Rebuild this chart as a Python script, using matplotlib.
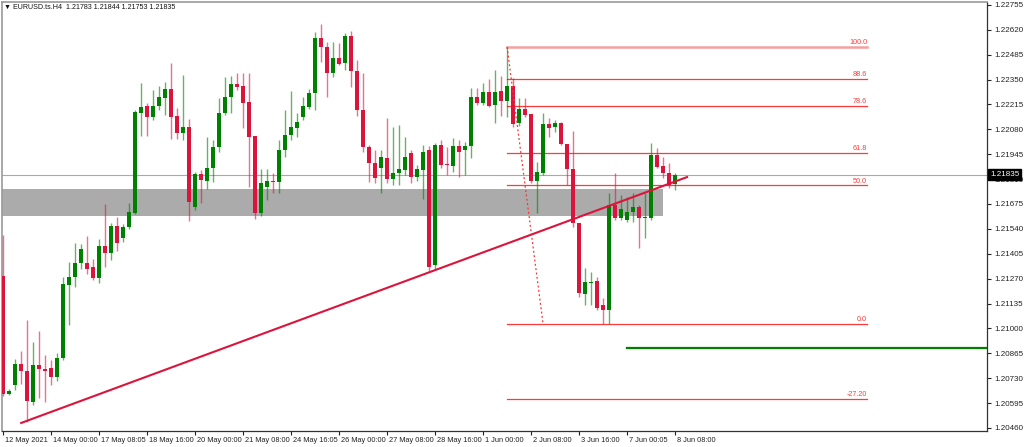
import numpy as np
import matplotlib.pyplot as plt
from matplotlib.transforms import blended_transform_factory, ScaledTranslation

plt.rcParams['font.family'] = ['Liberation Sans', 'DejaVu Sans']

# EURUSD H4 candles
opens = [1.21284, 1.20644, 1.20693, 1.20807, 1.20769, 1.20601, 1.20802, 1.20780, 1.20785, 1.20736,
         1.20840, 1.21236, 1.21279, 1.21355, 1.21355, 1.21333, 1.21274, 1.21447, 1.21409, 1.21556,
         1.21491, 1.21550, 1.21626, 1.22169, 1.22207, 1.22147, 1.22207, 1.22250, 1.22299, 1.22153,
         1.22060, 1.22093, 1.21659, 1.21838, 1.21800, 1.21870, 1.21985, 1.22169, 1.22256, 1.22326,
         1.22315, 1.22228, 1.22044, 1.21626, 1.21767, 1.21800, 1.21794, 1.21968, 1.22050, 1.22087,
         1.22147, 1.22201, 1.22277, 1.22576, 1.22527, 1.22386, 1.22467, 1.22440, 1.22587, 1.22397,
         1.22185, 1.21985, 1.21898, 1.21870, 1.21925, 1.21811, 1.21843, 1.21860, 1.21952, 1.21821,
         1.21860, 1.21968, 1.21344, 1.21995, 1.21892, 1.21881, 1.21990, 1.21968, 1.21990, 1.22256,
         1.22223, 1.22283, 1.22212, 1.22288, 1.22234, 1.22315, 1.22115, 1.22190, 1.22163, 1.21800,
         1.21843, 1.22109, 1.22093, 1.22115, 1.22001, 1.21865, 1.21572, 1.21187, 1.21247, 1.21257,
         1.21127, 1.21100, 1.21670, 1.21599, 1.21588, 1.21632, 1.21659, 1.21599, 1.21599, 1.21941,
         1.21881, 1.21843, 1.21783]
highs = [1.21507, 1.20671, 1.20834, 1.20878, 1.21046, 1.20926, 1.20986, 1.20856, 1.20829, 1.20867,
         1.21279, 1.21360, 1.21463, 1.21458, 1.21502, 1.21377, 1.21485, 1.21675, 1.21572, 1.21605,
         1.21567, 1.21681, 1.22185, 1.22332, 1.22223, 1.22294, 1.22315, 1.22337, 1.22440, 1.22196,
         1.22375, 1.22136, 1.21849, 1.21860, 1.22039, 1.22022, 1.22250, 1.22364, 1.22370, 1.22386,
         1.22386, 1.22386, 1.22044, 1.21865, 1.21865, 1.21843, 1.22022, 1.22185, 1.22288, 1.22169,
         1.22256, 1.22299, 1.22608, 1.22652, 1.22554, 1.22554, 1.22549, 1.22603, 1.22614, 1.22456,
         1.22386, 1.21995, 1.21968, 1.21968, 1.22142, 1.22093, 1.22104, 1.22039, 1.21968, 1.21887,
         1.21995, 1.21990, 1.22006, 1.22022, 1.21985, 1.22033, 1.22022, 1.22012, 1.22304, 1.22304,
         1.22332, 1.22353, 1.22402, 1.22370, 1.22527, 1.22359, 1.22250, 1.22250, 1.22163, 1.21903,
         1.22169, 1.22142, 1.22131, 1.22120, 1.22001, 1.22071, 1.21572, 1.21328, 1.21306, 1.21279,
         1.21165, 1.21735, 1.21843, 1.21724, 1.21713, 1.21735, 1.21670, 1.21735, 1.22006, 1.21979,
         1.21930, 1.21898, 1.21844]
lows = [1.20633, 1.20639, 1.20666, 1.20698, 1.20492, 1.20585, 1.20623, 1.20601, 1.20693, 1.20715,
        1.20829, 1.21018, 1.21225, 1.21322, 1.21295, 1.21263, 1.21246, 1.21333, 1.21371, 1.21420,
        1.21469, 1.21539, 1.21621, 1.22044, 1.22044, 1.22131, 1.22185, 1.22158, 1.22028, 1.22028,
        1.22022, 1.21583, 1.21643, 1.21681, 1.21756, 1.21794, 1.21957, 1.22158, 1.22169, 1.22294,
        1.22087, 1.21767, 1.21594, 1.21610, 1.21697, 1.21735, 1.21735, 1.21930, 1.22022, 1.22039,
        1.22131, 1.22190, 1.22185, 1.22446, 1.22256, 1.22364, 1.22429, 1.22402, 1.22310, 1.22153,
        1.21957, 1.21794, 1.21789, 1.21735, 1.21789, 1.21778, 1.21778, 1.21832, 1.21789, 1.21800,
        1.21702, 1.21306, 1.21322, 1.21870, 1.21832, 1.21849, 1.21821, 1.21832, 1.21925, 1.22212,
        1.22212, 1.22201, 1.22115, 1.22153, 1.22147, 1.22093, 1.22098, 1.22147, 1.21789, 1.21626,
        1.21832, 1.22039, 1.22066, 1.21995, 1.21778, 1.21550, 1.21170, 1.21127, 1.21127, 1.21100,
        1.21024, 1.21024, 1.21588, 1.21588, 1.21577, 1.21577, 1.21437, 1.21491, 1.21588, 1.21870,
        1.21816, 1.21762, 1.21753]
closes = [1.20644, 1.20661, 1.20807, 1.20769, 1.20606, 1.20802, 1.20780, 1.20769, 1.20736, 1.20840,
          1.21241, 1.21279, 1.21355, 1.21431, 1.21322, 1.21274, 1.21447, 1.21409, 1.21556, 1.21463,
          1.21550, 1.21632, 1.22174, 1.22201, 1.22147, 1.22207, 1.22256, 1.22299, 1.22147, 1.22060,
          1.22093, 1.21686, 1.21838, 1.21805, 1.21870, 1.21985, 1.22169, 1.22256, 1.22326, 1.22310,
          1.22223, 1.22039, 1.21626, 1.21789, 1.21800, 1.21794, 1.21968, 1.22050, 1.22093, 1.22120,
          1.22207, 1.22277, 1.22576, 1.22527, 1.22386, 1.22467, 1.22435, 1.22587, 1.22397, 1.22185,
          1.21985, 1.21898, 1.21816, 1.21930, 1.21811, 1.21843, 1.21865, 1.21930, 1.21821, 1.21865,
          1.21957, 1.21333, 1.21995, 1.21887, 1.21887, 1.21990, 1.21957, 1.21990, 1.22256, 1.22223,
          1.22283, 1.22207, 1.22283, 1.22234, 1.22315, 1.22109, 1.22190, 1.22158, 1.21800, 1.21849,
          1.22109, 1.22087, 1.22115, 1.22001, 1.21865, 1.21572, 1.21192, 1.21252, 1.21252, 1.21111,
          1.21100, 1.21670, 1.21599, 1.21648, 1.21632, 1.21659, 1.21599, 1.21605, 1.21941, 1.21876,
          1.21843, 1.21778, 1.21835]

date_labels = ['12 May 2021', '14 May 00:00', '17 May 08:05', '18 May 16:00', '20 May 00:00',
               '21 May 08:00', '24 May 16:05', '26 May 00:00', '27 May 08:00', '28 May 16:00',
               '1 Jun 00:00', '2 Jun 08:00', '3 Jun 16:00', '7 Jun 00:05', '8 Jun 08:00']
price_ticks = [1.22755, 1.22620, 1.22485, 1.22350, 1.22215, 1.22080, 1.21945, 1.21810,
               1.21675, 1.21540, 1.21405, 1.21270, 1.21135, 1.21000, 1.20865, 1.20730,
               1.20595, 1.20460]

# drawn objects
fib_high, fib_low = 1.22527, 1.21024
fib_levels = [100.0, 88.6, 78.6, 61.8, 50.0, 0.0, -27.2]
fib_texts = ['100.0', '88.6', '78.6', '61.8', '50.0', '0.0', '-27.20']
fib_start, fib_anchor, fib_end = 84, 90, 144
trend_idx = [3, 114]
trend_price = [1.20487, 1.21821]
zone_low, zone_high, zone_end = 1.21610, 1.21757, 110
green_level, green_start = 1.20894, 104
last_price = 1.21835

GREEN = '#008000'
RED = '#dc143c'

fig = plt.figure(figsize=(10.24, 4.47), dpi=100)
ax = fig.add_axes([2 / 1024, 16.5 / 447, 985 / 1024, 428.5 / 447])

x = np.arange(len(opens))
o = np.array(opens)
c = np.array(closes)
up = c >= o
cols = np.where(up, GREEN, RED)

# support zone
ax.fill_between([-2, zone_end], zone_low, zone_high, color='#ababab', lw=0, zorder=1)

# candles
ax.vlines(x, lows, highs, colors=cols, lw=1, alpha=0.6, zorder=3)
body_h = np.maximum(np.abs(c - o), 0.000025)
ax.bar(x, body_h, bottom=np.minimum(o, c), width=0.62, color=cols, lw=0, zorder=4)

# current price line
ax.axhline(last_price, color='#a4aab4', lw=0.8, zorder=2)

# trendline
ax.plot(trend_idx, trend_price, color=RED, lw=1.5, zorder=5)

# fibonacci
rng = fib_high - fib_low
ax.plot([fib_start, fib_anchor], [fib_high, fib_low], color='#ff3030', lw=0.9, ls=(0, (1.5, 2)), zorder=5)
for lvl, txt in zip(fib_levels, fib_texts):
    y = fib_low + rng * lvl / 100.0
    if lvl == 100.0:
        ax.plot([fib_start, fib_end], [y, y], color='#f4a0a0', lw=1.8, zorder=2)
    else:
        ax.plot([fib_start, fib_end], [y, y], color='#ff3a3a', lw=0.9, zorder=2)
    ax.text(fib_end, y + 0.00005, txt, color='#ff3a3a', fontsize=5.2, ha='right', va='bottom')

# green level
ax.plot([green_start, 170], [green_level, green_level], color=GREEN, lw=1.6, zorder=2)

ax.set_xlim(-0.2, 164)
ax.set_ylim(1.20446, 1.22771)

ax.yaxis.tick_right()
ax.set_yticks(price_ticks)
ax.set_yticklabels([f'{p:.5f}' for p in price_ticks])
ax.tick_params(axis='y', direction='out', length=3, width=0.8, labelsize=5.8, pad=2, colors='#222222')

ax.set_xticks(np.arange(len(date_labels)) * 8)
ax.set_xticklabels(date_labels, ha='left')
ax.tick_params(axis='x', direction='out', length=3, width=0.8, labelsize=5.3, pad=1.5, colors='#222222')
shift = ScaledTranslation(2 / 100, 0, fig.dpi_scale_trans)
for lab in ax.get_xticklabels():
    lab.set_transform(lab.get_transform() + shift)

for s in ['top', 'left']:
    ax.spines[s].set_color('#9a9a9a')
    ax.spines[s].set_linewidth(1.2)
for s in ['right', 'bottom']:
    ax.spines[s].set_color('#333333')
    ax.spines[s].set_linewidth(0.9)

# price label on axis
tr = blended_transform_factory(ax.transAxes, ax.transData)
ax.text(1.003, last_price, f'{last_price:.5f}', transform=tr, fontsize=5.8, color='white',
        va='center', ha='left', zorder=10,
        bbox=dict(boxstyle='square,pad=0.25', fc='black', ec='black'))

fig.text(4 / 1024, 1 - 7 / 447, '\u25bc EURUSD.ts.H4  1.21783 1.21844 1.21753 1.21835',
         fontsize=5.1, va='center', ha='left', color='#111111')

fig.savefig('out.png', dpi=100)
